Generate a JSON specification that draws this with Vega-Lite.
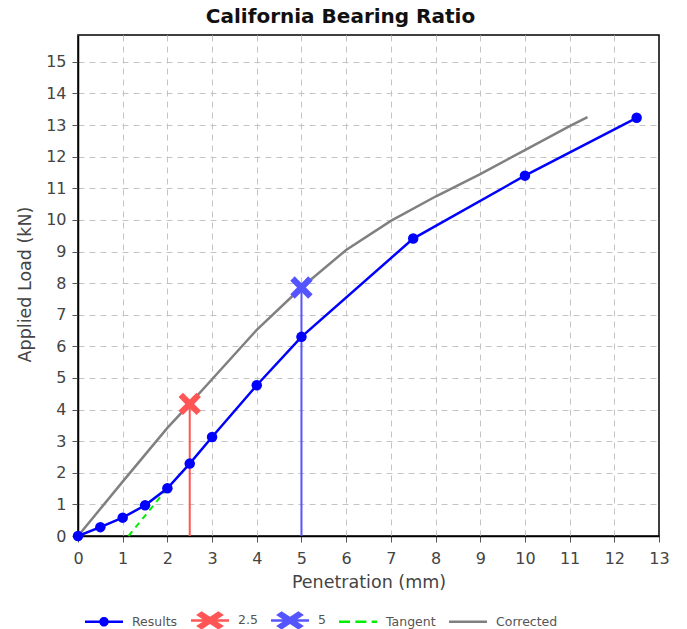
{
  "$schema": "https://vega.github.io/schema/vega-lite/v6.json",
  "width": 581,
  "height": 501,
  "autosize": {"type": "none"},
  "padding": {"left": 78, "top": 35, "right": 28, "bottom": 93},
  "background": "white",
  "title": {
    "text": "California Bearing Ratio",
    "font": "DejaVu Sans",
    "fontSize": 20,
    "fontWeight": "bold",
    "color": "#111",
    "anchor": "middle",
    "dx": -28,
    "offset": 8
  },
  "config": {
    "view": {"stroke": "black", "strokeWidth": 1.5},
    "axis": {
      "labelFont": "DejaVu Sans",
      "labelFontSize": 16,
      "labelColor": "#444",
      "labelFlush": false,
      "titleFont": "DejaVu Sans",
      "titleFontSize": 17.5,
      "titleFontWeight": "normal",
      "titleColor": "#444",
      "domainColor": "black",
      "domainWidth": 1.5,
      "tickColor": "#555",
      "tickSize": 6,
      "grid": true,
      "gridDash": [6, 5],
      "gridWidth": 1
    }
  },
  "datasets": {
    "results": [
      {"series": "Results", "pen": 0, "load": 0},
      {"series": "Results", "pen": 0.5, "load": 0.28},
      {"series": "Results", "pen": 1, "load": 0.58},
      {"series": "Results", "pen": 1.5, "load": 0.97},
      {"series": "Results", "pen": 2, "load": 1.51},
      {"series": "Results", "pen": 2.5, "load": 2.29},
      {"series": "Results", "pen": 3, "load": 3.13},
      {"series": "Results", "pen": 4, "load": 4.77},
      {"series": "Results", "pen": 5, "load": 6.3},
      {"series": "Results", "pen": 7.5, "load": 9.41},
      {"series": "Results", "pen": 10, "load": 11.4},
      {"series": "Results", "pen": 12.5, "load": 13.23}
    ],
    "corrected": [
      {"series": "Corrected", "pen": 0, "load": 0},
      {"series": "Corrected", "pen": 1, "load": 1.72},
      {"series": "Corrected", "pen": 2, "load": 3.42},
      {"series": "Corrected", "pen": 2.5, "load": 4.18},
      {"series": "Corrected", "pen": 3, "load": 4.96},
      {"series": "Corrected", "pen": 4, "load": 6.52},
      {"series": "Corrected", "pen": 5, "load": 7.86},
      {"series": "Corrected", "pen": 6, "load": 9.05},
      {"series": "Corrected", "pen": 7, "load": 9.97},
      {"series": "Corrected", "pen": 8, "load": 10.74},
      {"series": "Corrected", "pen": 9, "load": 11.45},
      {"series": "Corrected", "pen": 10, "load": 12.21},
      {"series": "Corrected", "pen": 11, "load": 12.97},
      {"series": "Corrected", "pen": 11.4, "load": 13.25}
    ],
    "tangent": [
      {"series": "Tangent", "pen": 1.13, "load": 0},
      {"series": "Tangent", "pen": 2, "load": 1.51}
    ],
    "markers": [
      {"series": "2.5", "pen": 2.5, "load": 4.18},
      {"series": "5", "pen": 5, "load": 7.86}
    ]
  },
  "encoding": {
    "x": {
      "field": "pen",
      "type": "quantitative",
      "scale": {"domain": [0, 13], "nice": false, "zero": false},
      "axis": {
        "title": "Penetration (mm)",
        "values": [0, 1, 2, 3, 4, 5, 6, 7, 8, 9, 10, 11, 12, 13],
        "labelPadding": 8,
        "titleBaseline": "alphabetic",
        "titleY": 51,
        "gridColor": {"condition": {"test": "datum.value === 13", "value": "transparent"}, "value": "#c4c4c4"}
      }
    },
    "y": {
      "field": "load",
      "type": "quantitative",
      "scale": {"domain": [0, 15.85], "nice": false, "zero": false},
      "axis": {
        "title": "Applied Load (kN)",
        "values": [0, 1, 2, 3, 4, 5, 6, 7, 8, 9, 10, 11, 12, 13, 14, 15],
        "labelPadding": 6,
        "titleAngle": -90,
        "titleBaseline": "alphabetic",
        "titleAlign": "center",
        "titleX": -48,
        "titleY": 249,
        "gridColor": "#c4c4c4"
      }
    }
  },
  "layer": [
    {
      "data": {"name": "corrected"},
      "mark": {"type": "line", "strokeWidth": 2.5, "color": "#808080"}
    },
    {
      "data": {"name": "markers"},
      "transform": [{"filter": "datum.series === '2.5'"}],
      "mark": {"type": "rule", "strokeWidth": 2, "color": "#ff5555"},
      "encoding": {"y2": {"datum": 0}}
    },
    {
      "data": {"name": "markers"},
      "transform": [{"filter": "datum.series === '5'"}],
      "mark": {"type": "rule", "strokeWidth": 2, "color": "#5555ff"},
      "encoding": {"y2": {"datum": 0}}
    },
    {
      "data": {"name": "tangent"},
      "mark": {"type": "line", "strokeWidth": 2, "strokeDash": [6, 5], "color": "#00ee00"}
    },
    {
      "data": {"name": "results"},
      "mark": {"type": "line", "strokeWidth": 2.5, "color": "#0000ff"}
    },
    {
      "data": {"name": "results"},
      "mark": {"type": "point", "filled": true, "shape": "circle", "size": 110, "opacity": 1, "color": "#0000ff"}
    },
    {
      "data": {"name": "markers"},
      "mark": {
        "type": "point",
        "filled": true,
        "opacity": 1,
        "size": 500,
        "strokeWidth": 0,
        "shape": "M-0.604,-1L0,-0.396L0.604,-1L1,-0.604L0.396,0L1,0.604L0.604,1L0,0.396L-0.604,1L-1,0.604L-0.396,0L-1,-0.604Z"
      },
      "encoding": {
        "color": {
          "field": "series",
          "type": "nominal",
          "scale": {
            "domain": ["Results", "2.5", "5", "Tangent", "Corrected"],
            "range": ["#0000ff", "#ff5555", "#5555ff", "#00ee00", "#808080"]
          },
          "legend": {
            "orient": "none",
            "legendX": 7,
            "legendY": 566,
            "direction": "horizontal",
            "columns": 5,
            "title": null,
            "symbolSize": 1444,
            "symbolStrokeWidth": 0,
            "symbolOpacity": 1,
            "labelOffset": 9,
            "columnPadding": 13,
            "padding": 0,
            "labelFont": "DejaVu Sans",
            "labelFontSize": 12.5,
            "labelColor": "#555",
            "encode": {
              "symbols": {
                "update": {
                  "shape": {
                    "signal": "datum.value === 'Results' ? 'M-1,-0.065H1V0.065H-1ZM-0.25,0A0.25,0.25,0,1,1,0.25,0A0.25,0.25,0,1,1,-0.25,0Z' : (datum.value === '2.5' || datum.value === '5') ? 'M-1,-0.065H1V0.065H-1ZM-0.441,-0.48L0,-0.19L0.441,-0.48L0.73,-0.29L0.289,0L0.73,0.29L0.441,0.48L0,0.19L-0.441,0.48L-0.73,0.29L-0.289,0L-0.73,-0.29Z' : datum.value === 'Tangent' ? 'M-1,-0.065H-0.42V0.065H-1ZM-0.14,-0.065H0.44V0.065H-0.14ZM0.72,-0.065H1V0.065H0.72Z' : 'M-1,-0.065H1V0.065H-1Z'"
                  },
                  "strokeWidth": {"value": 0}
                }
              }
            }
          }
        }
      }
    }
  ]
}
